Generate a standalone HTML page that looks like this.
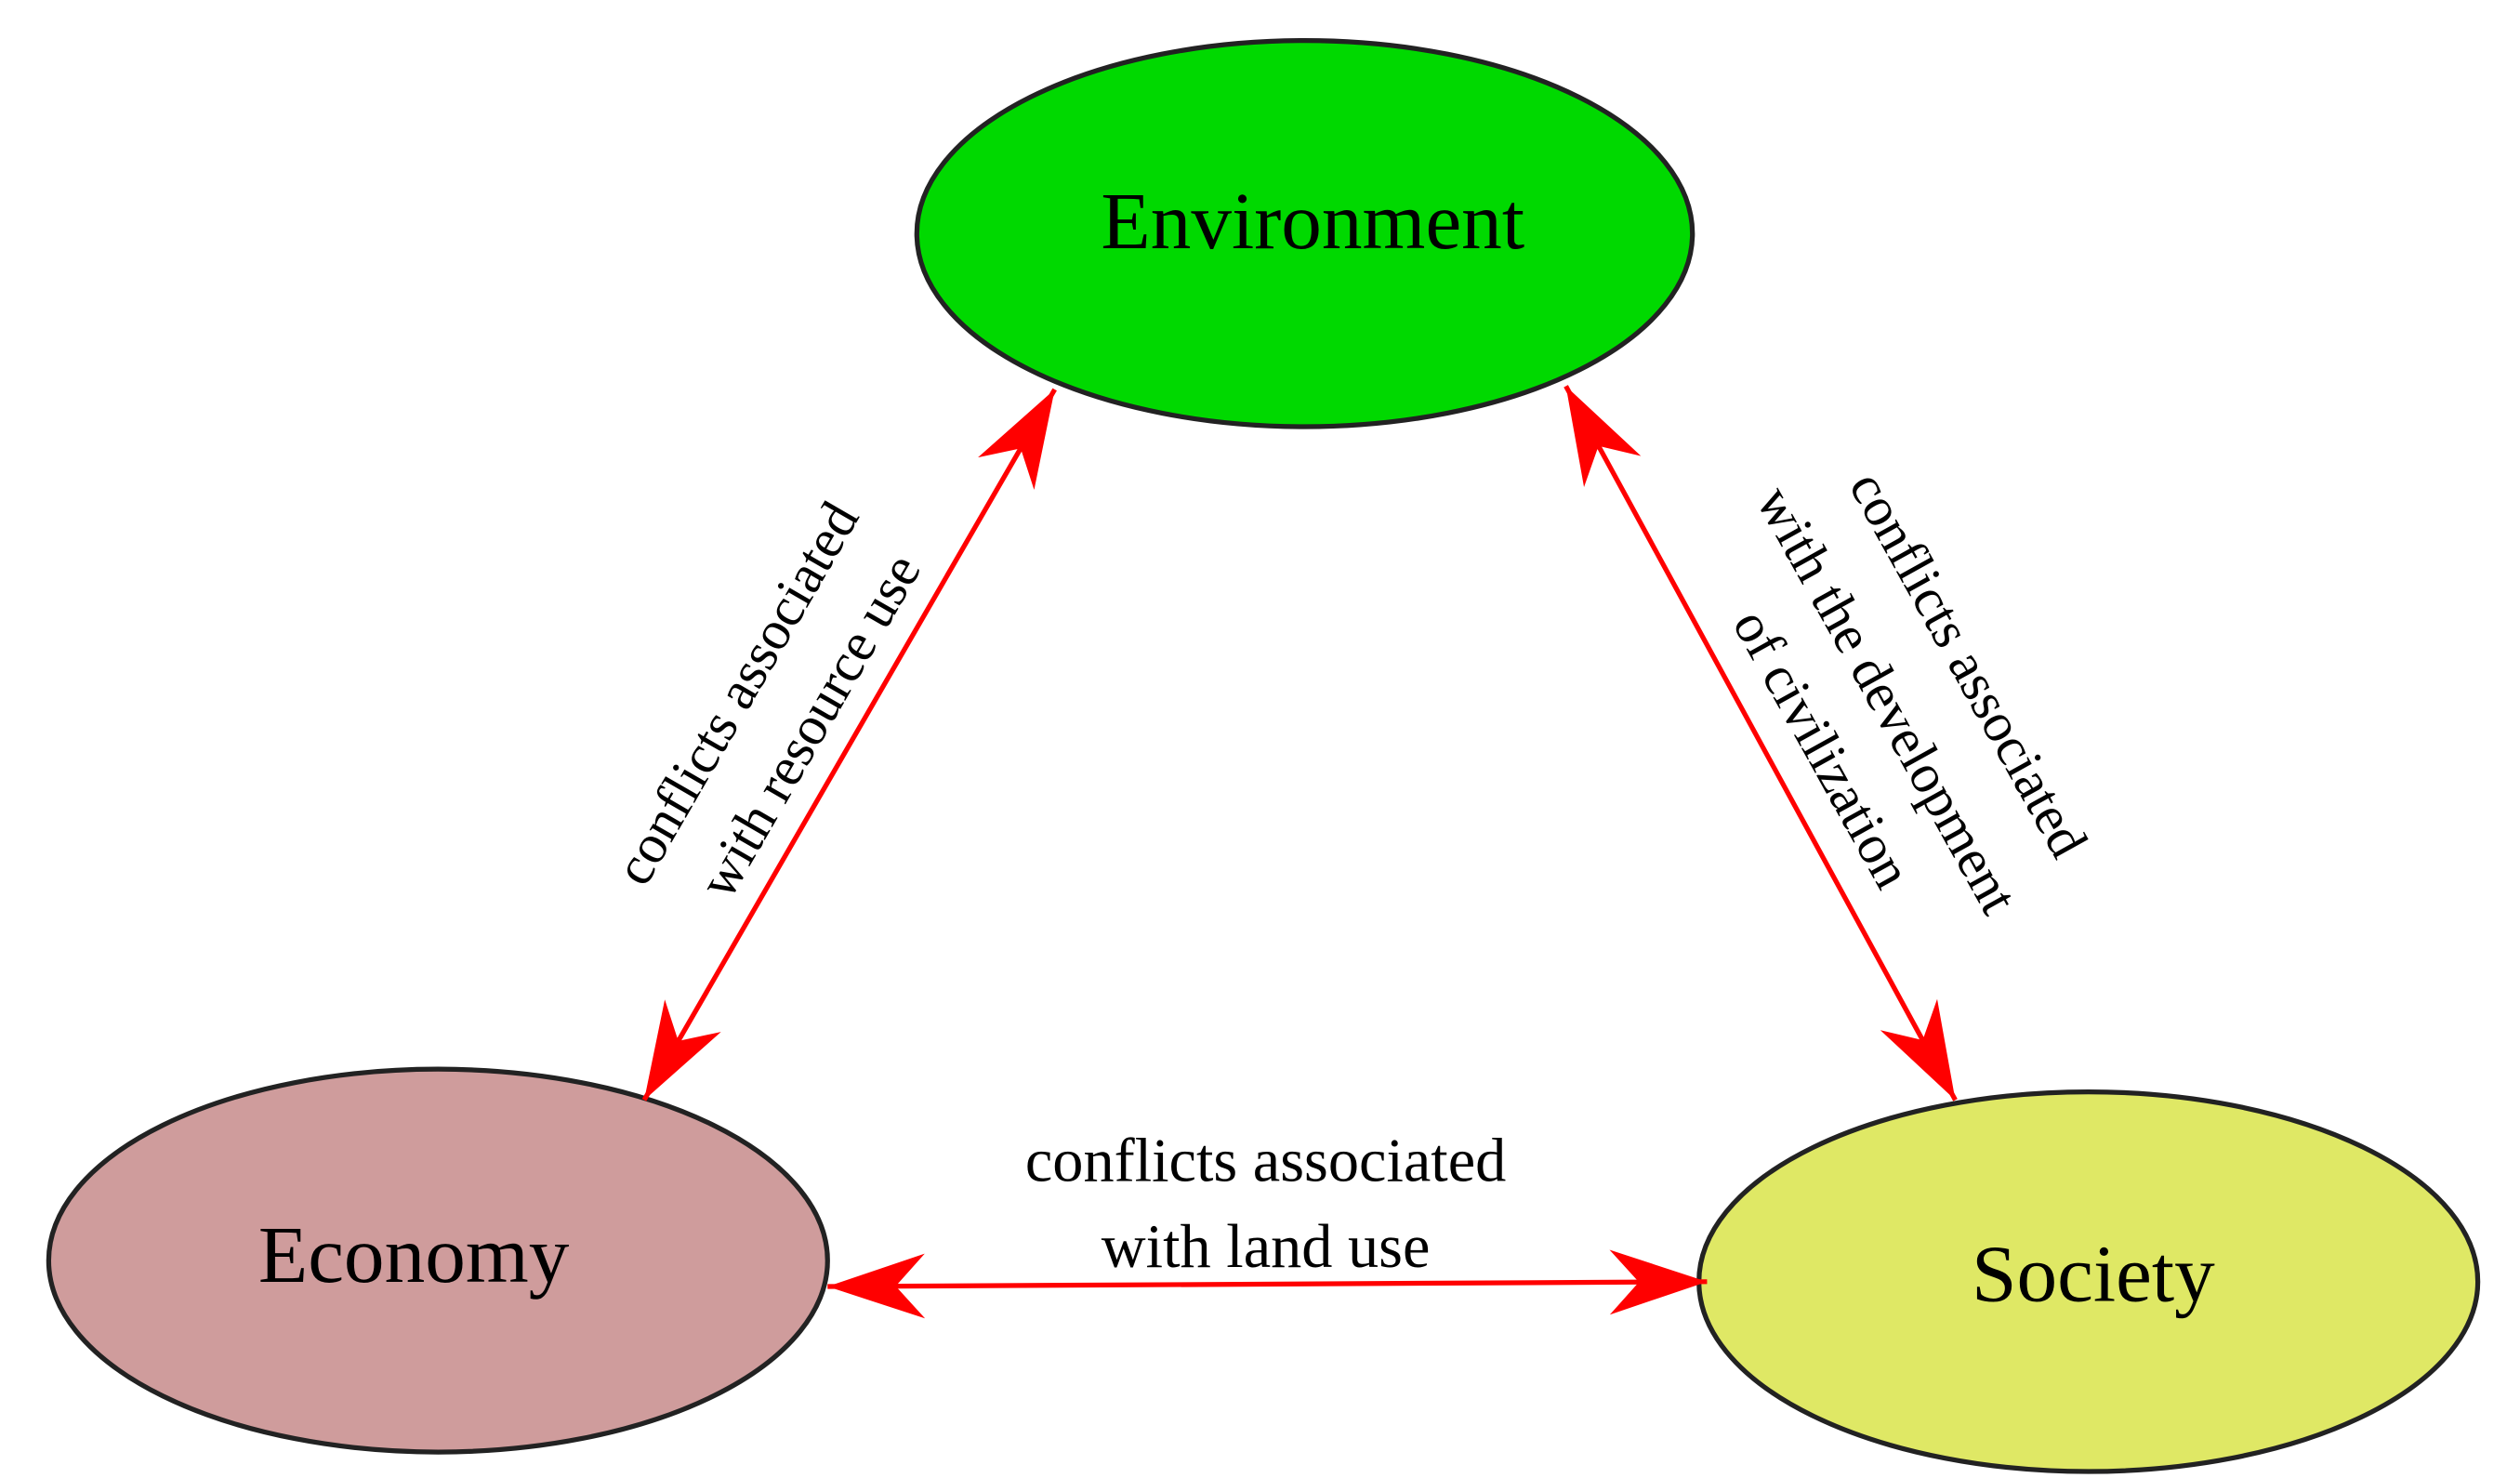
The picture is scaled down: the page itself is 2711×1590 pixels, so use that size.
<!DOCTYPE html>
<html><head><meta charset="utf-8"><style>html,body{margin:0;padding:0;background:#fff}svg{display:block}</style></head>
<body>
<svg width="2711" height="1590" viewBox="0 0 1553 911" preserveAspectRatio="none" xmlns="http://www.w3.org/2000/svg" font-family="'Liberation Serif', serif">
<defs>
<marker id="ah" viewBox="0 0 60 40" refX="60" refY="20" markerWidth="60" markerHeight="40" markerUnits="userSpaceOnUse" orient="auto-start-reverse">
<path d="M0,0 L60,20 L0,40 L18,20 Z" fill="#ff0000"/>
</marker>
</defs>
<ellipse cx="804" cy="144" rx="239" ry="119" fill="#00d900" stroke="#222" stroke-width="3"/>
<ellipse cx="270" cy="777" rx="240" ry="118" fill="#cf9c9c" stroke="#222" stroke-width="3"/>
<ellipse cx="1287" cy="790" rx="240" ry="117" fill="#dfe865" stroke="#222" stroke-width="3"/>
<text x="809" y="153" font-size="50" text-anchor="middle" fill="#000">Environment</text>
<text x="255" y="790" font-size="50" text-anchor="middle" fill="#000">Economy</text>
<text x="1290" y="802" font-size="50" text-anchor="middle" fill="#000">Society</text>
<line x1="397" y1="678" x2="650" y2="240" stroke="#ff0000" stroke-width="3" marker-start="url(#ah)" marker-end="url(#ah)"/>
<line x1="965" y1="238" x2="1205" y2="678" stroke="#ff0000" stroke-width="3" marker-start="url(#ah)" marker-end="url(#ah)"/>
<line x1="510" y1="793" x2="1052" y2="790" stroke="#ff0000" stroke-width="3" marker-start="url(#ah)" marker-end="url(#ah)"/>
<g font-size="34" text-anchor="middle" fill="#000">
<text transform="translate(455,428) rotate(-60)" x="0" y="10">conflicts associated</text>
<text transform="translate(500,448) rotate(-60)" x="0" y="10">with resource use</text>
<text transform="translate(1212,410) rotate(61)" x="0" y="10">conflicts associated</text>
<text transform="translate(1162,432) rotate(61)" x="0" y="10">with the development</text>
<text transform="translate(1122,462) rotate(61)" x="0" y="10">of civilization</text>
<text x="780" y="728" font-size="38">conflicts associated</text>
<text x="780" y="781" font-size="38">with land use</text>
</g>
</svg>
</body></html>
